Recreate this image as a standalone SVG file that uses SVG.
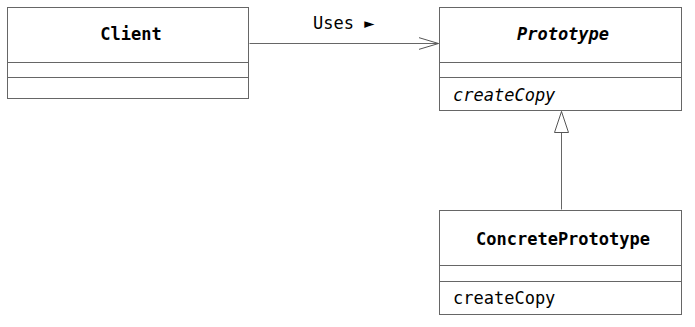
<svg xmlns="http://www.w3.org/2000/svg" width="695" height="327" viewBox="0 0 695 327">
  <style>
    .box { fill: #ffffff; stroke: #666666; stroke-width: 1; }
    .sep { stroke: #666666; stroke-width: 1; }
    .t { font-family: "DejaVu Sans Mono", "Liberation Mono", monospace; font-size: 17px; fill: #000000; }
    .name { font-weight: bold; text-anchor: middle; }
    .abs { font-style: italic; }
    .edge { fill: none; stroke: #666666; stroke-width: 1; }
  </style>
  <defs>
    <marker id="open" markerWidth="22" markerHeight="14" refX="20" refY="7" orient="auto" markerUnits="userSpaceOnUse">
      <path d="M0,1 L20,7 L0,13" fill="none" stroke="#555555" stroke-width="1"/>
    </marker>
    <marker id="tri" markerWidth="24" markerHeight="16" refX="22" refY="8" orient="auto" markerUnits="userSpaceOnUse">
      <path d="M22,8 L1,1 L1,15 Z" fill="#ffffff" stroke="#555555" stroke-width="1"/>
    </marker>
  </defs>

  <g id="connectors">
    <path class="edge" d="M249.5,43.5 H438.5" marker-end="url(#open)"/>
    <text class="t" x="313" y="29">Uses ►</text>
    <path class="edge" d="M561.5,209.5 V111.5" marker-end="url(#tri)"/>
  </g>

  <g id="client">
    <rect class="box" x="7.5" y="7.5" width="241" height="91"/>
    <line class="sep" x1="7.5" y1="62.5" x2="248.5" y2="62.5"/>
    <line class="sep" x1="7.5" y1="77.5" x2="248.5" y2="77.5"/>
    <text class="t name" x="131" y="40">Client</text>
  </g>

  <g id="prototype">
    <rect class="box" x="439.5" y="7.5" width="242" height="103"/>
    <line class="sep" x1="439.5" y1="62.5" x2="681.5" y2="62.5"/>
    <line class="sep" x1="439.5" y1="77.5" x2="681.5" y2="77.5"/>
    <text class="t name abs" x="563" y="40">Prototype</text>
    <text class="t abs" x="453" y="101">createCopy</text>
  </g>

  <g id="concrete-prototype">
    <rect class="box" x="439.5" y="210.5" width="242" height="104"/>
    <line class="sep" x1="439.5" y1="265.5" x2="681.5" y2="265.5"/>
    <line class="sep" x1="439.5" y1="281.5" x2="681.5" y2="281.5"/>
    <text class="t name" x="563" y="245">ConcretePrototype</text>
    <text class="t" x="453" y="304">createCopy</text>
  </g>
</svg>
